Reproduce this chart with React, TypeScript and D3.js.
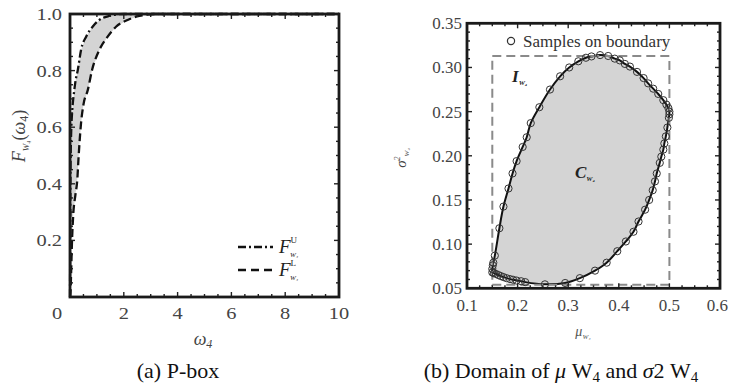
import React from "react";
import * as d3 from "d3";

// ---------- Data: panel (a) P-box ----------
const upperOmega = [0, 0.005, 0.01, 0.02, 0.035, 0.05, 0.07, 0.1, 0.16, 0.2, 0.29, 0.41, 0.6, 0.84, 1.09, 1.45, 2.0, 3.0, 10];
const upperF = [0, 0.1, 0.25, 0.45, 0.55, 0.6, 0.64, 0.68, 0.731, 0.76, 0.802, 0.873, 0.92, 0.955, 0.979, 0.993, 1.0, 1.0, 1.0];
const lowerOmega = [0, 0.02, 0.04, 0.07, 0.12, 0.2, 0.27, 0.32, 0.41, 0.5, 0.66, 0.82, 1.09, 1.4, 1.71, 2.14, 2.58, 3.2, 10];
const lowerF = [0, 0.02, 0.08, 0.184, 0.29, 0.36, 0.413, 0.496, 0.614, 0.68, 0.731, 0.802, 0.873, 0.92, 0.955, 0.979, 0.993, 1.0, 1.0];
const aXTicks = [0, 2, 4, 6, 8, 10];
const aYTicks = [0.2, 0.4, 0.6, 0.8, 1.0];

// ---------- Data: panel (b) domain ----------
const boundaryMu = [
  0.15, 0.15, 0.151, 0.152, 0.155, 0.164, 0.172, 0.182, 0.19, 0.198, 0.21, 0.218, 0.226, 0.243, 0.264, 0.284,
  0.302, 0.32, 0.335, 0.346, 0.363, 0.379, 0.392, 0.402, 0.412, 0.422, 0.436, 0.449, 0.458, 0.468, 0.478,
  0.488, 0.494, 0.498, 0.5, 0.5, 0.499, 0.496, 0.493, 0.49, 0.488, 0.484, 0.481, 0.475, 0.4715, 0.467, 0.46,
  0.452, 0.439, 0.429, 0.414, 0.397, 0.376, 0.353, 0.323, 0.294, 0.254, 0.215, 0.207, 0.198, 0.191, 0.185,
  0.178, 0.172, 0.167, 0.162, 0.157, 0.153,
];
const boundarySigma2 = [
  0.068, 0.072, 0.076, 0.079, 0.087, 0.118, 0.1425, 0.163, 0.18, 0.194, 0.21, 0.221, 0.237, 0.255, 0.275, 0.29,
  0.3, 0.307, 0.311, 0.3125, 0.314, 0.313, 0.31, 0.308, 0.304, 0.301, 0.295, 0.288, 0.282, 0.276, 0.27,
  0.263, 0.258, 0.254, 0.25, 0.247, 0.243, 0.232, 0.222, 0.214, 0.207, 0.199, 0.192, 0.18, 0.171, 0.161, 0.15,
  0.139, 0.1256, 0.114, 0.103, 0.092, 0.079, 0.07, 0.0615, 0.056, 0.0545, 0.057, 0.058, 0.0588, 0.0597, 0.0604,
  0.0615, 0.0627, 0.0638, 0.065, 0.0663, 0.0672,
];
const boxMu = [0.15, 0.5];
const boxSigma2 = [0.054, 0.313];
const bXTicks = [0.1, 0.2, 0.3, 0.4, 0.5, 0.6];
const bYTicks = [0.05, 0.1, 0.15, 0.2, 0.25, 0.3, 0.35];

const SERIF = "'Liberation Serif', 'Times New Roman', serif";

function range(a: number, b: number, step: number) {
  const out: number[] = [];
  for (let v = a; v <= b + step * 1e-6; v += step) out.push(+v.toFixed(6));
  return out;
}

export default function App() {
  // Panel (a) scales
  const ax = d3.scaleLinear().domain([0, 10]).range([70, 339]);
  const ay = d3.scaleLinear().domain([0, 1]).range([297, 14]);
  // Panel (b) scales
  const bx = d3.scaleLinear().domain([0.1, 0.6]).range([467, 720]);
  const by = d3.scaleLinear().domain([0.05, 0.35]).range([288.3, 23.3]);

  const upperPts: [number, number][] = upperOmega.map((w, i) => [w, upperF[i]]);
  const lowerPts: [number, number][] = lowerOmega.map((w, i) => [w, lowerF[i]]);
  const lineA = d3
    .line<[number, number]>()
    .x((d) => ax(d[0]))
    .y((d) => ay(d[1]))
    .curve(d3.curveMonotoneX);
  const bandPts = [...upperPts, ...lowerPts.slice().reverse()];
  const bandPath = d3
    .line<[number, number]>()
    .x((d) => ax(d[0]))
    .y((d) => ay(d[1]))
    .curve(d3.curveLinear)(bandPts) + "Z";

  const bPts: [number, number][] = boundaryMu.map((m, i) => [m, boundarySigma2[i]]);
  const closedLine = d3
    .line<[number, number]>()
    .x((d) => bx(d[0]))
    .y((d) => by(d[1]))
    .curve(d3.curveCatmullRomClosed.alpha(0.5));

  const frameW = 2.8;

  // tick helper: inward ticks on all four sides
  const ticksFrame = (
    xs: d3.ScaleLinear<number, number>,
    ys: d3.ScaleLinear<number, number>,
    xMinor: number[],
    xMajor: number[],
    yMinor: number[],
    yMajor: number[]
  ) => {
    const [x0, x1] = xs.range();
    const [y0, y1] = ys.range();
    const els: React.ReactNode[] = [];
    const isMajor = (arr: number[], v: number) => arr.some((m) => Math.abs(m - v) < 1e-6);
    xMinor.forEach((v, i) => {
      const L = isMajor(xMajor, v) ? 5 : 3;
      const X = xs(v);
      els.push(<line key={"xb" + i} x1={X} x2={X} y1={y0} y2={y0 - L} stroke="#222" strokeWidth={1.4} />);
      els.push(<line key={"xt" + i} x1={X} x2={X} y1={y1} y2={y1 + L} stroke="#222" strokeWidth={1.4} />);
    });
    yMinor.forEach((v, i) => {
      const L = isMajor(yMajor, v) ? 5 : 3;
      const Y = ys(v);
      els.push(<line key={"yl" + i} x1={x0} x2={x0 + L} y1={Y} y2={Y} stroke="#222" strokeWidth={1.4} />);
      els.push(<line key={"yr" + i} x1={x1} x2={x1 - L} y1={Y} y2={Y} stroke="#222" strokeWidth={1.4} />);
    });
    return els;
  };

  return (
    <svg width={729} height={388} style={{ position: "absolute", left: 0, top: 0, background: "#fff" }} fontFamily={SERIF}>
      <rect x={0} y={0} width={729} height={388} fill="#fff" />

      {/* ================= Panel (a) ================= */}
      <path d={bandPath} fill="#d4d4d4" stroke="none" />
      <path d={lineA(upperPts) || ""} fill="none" stroke="#111" strokeWidth={2.3} strokeDasharray="8,3,2,3" />
      <path d={lineA(lowerPts) || ""} fill="none" stroke="#111" strokeWidth={2.3} strokeDasharray="8,4" />
      {ticksFrame(ax, ay, range(0, 10, 0.5), aXTicks, range(0, 1, 0.05), aYTicks)}
      <rect x={ax(0)} y={ay(1)} width={ax(10) - ax(0)} height={ay(0) - ay(1)} fill="none" stroke="#1a1a1a" strokeWidth={frameW} />

      {aYTicks.map((t) => (
        <text key={"ay" + t} transform={`translate(62,${ay(t) + 6}) scale(1.2,1)`} textAnchor="end" fontSize={17} fill="#444">
          {t.toFixed(1)}
        </text>
      ))}
      {aXTicks.map((t) => (
        <text key={"ax" + t} transform={`translate(${ax(t) + (t === 0 ? -13 : 0)},319) scale(1.2,1)`} textAnchor="middle" fontSize={17} fill="#444">
          {t}
        </text>
      ))}
      <text x={203} y={345} textAnchor="middle" fontSize={18} fontStyle="italic" fill="#444">
        ω<tspan fontSize={12} dy={3}>4</tspan>
      </text>
      <text transform="translate(25,136) rotate(-90)" textAnchor="middle" fontSize={18} fill="#444">
        <tspan fontStyle="italic">F</tspan>
        <tspan fontSize={9} fontStyle="italic" dy={4}>W₄</tspan>
        <tspan dy={-4}>(</tspan>
        <tspan fontStyle="italic">ω</tspan>
        <tspan fontSize={12} dy={3}>4</tspan>
        <tspan dy={-3}>)</tspan>
      </text>

      {/* legend (a) */}
      <line x1={238} x2={273} y1={247} y2={247} stroke="#111" strokeWidth={2.3} strokeDasharray="8,3,2,3" />
      <text x={279} y={253} fontSize={19} fontStyle="italic" fill="#222">
        F<tspan fontSize={9} fontStyle="normal" dy={-10}>U</tspan>
        <tspan x={290} dy={14} fontSize={7}>W₄</tspan>
      </text>
      <line x1={238} x2={273} y1={270} y2={270} stroke="#111" strokeWidth={2.3} strokeDasharray="8,5" />
      <text x={279} y={276} fontSize={19} fontStyle="italic" fill="#222">
        F<tspan fontSize={9} fontStyle="normal" dy={-10}>L</tspan>
        <tspan x={290} dy={14} fontSize={7}>W₄</tspan>
      </text>

      <text x={178} y={378} textAnchor="middle" fontSize={22} fill="#111">
        (a) P-box
      </text>

      {/* ================= Panel (b) ================= */}
      <path d={closedLine(bPts) || ""} fill="#d4d4d4" stroke="#111" strokeWidth={2} />
      <rect
        x={bx(boxMu[0])}
        y={by(boxSigma2[1])}
        width={bx(boxMu[1]) - bx(boxMu[0])}
        height={by(boxSigma2[0]) - by(boxSigma2[1])}
        fill="none"
        stroke="#8a8a8a"
        strokeWidth={2}
        strokeDasharray="9,5"
      />
      {bPts.map((p, i) => (
        <circle key={"c" + i} cx={bx(p[0])} cy={by(p[1])} r={3.6} fill="none" stroke="#333" strokeWidth={1} />
      ))}
      {ticksFrame(bx, by, range(0.1, 0.6, 0.025), bXTicks, range(0.05, 0.35, 0.01), bYTicks)}
      <rect x={bx(0.1)} y={by(0.35)} width={bx(0.6) - bx(0.1)} height={by(0.05) - by(0.35)} fill="none" stroke="#1a1a1a" strokeWidth={frameW} />

      {bYTicks.map((t) => (
        <text key={"by" + t} x={462} y={by(t) + 6} textAnchor="end" fontSize={17} fill="#444">
          {t.toFixed(2)}
        </text>
      ))}
      {bXTicks.map((t, i) => (
        <text
          key={"bx" + t}
          x={i === bXTicks.length - 1 ? 728 : bx(t)}
          y={311}
          textAnchor={i === bXTicks.length - 1 ? "end" : "middle"}
          fontSize={17}
          fill="#444"
        >
          {t.toFixed(1)}
        </text>
      ))}
      <text x={583} y={336} textAnchor="middle" fontSize={14} fontStyle="italic" fill="#555">
        μ<tspan fontSize={7} dy={3}>W₄</tspan>
      </text>
      <text transform="translate(406,158) rotate(-90)" textAnchor="middle" fontSize={15} fontStyle="italic" fill="#444">
        σ<tspan fontSize={8} dy={-6}>2</tspan>
        <tspan fontSize={7} dy={9}>W₄</tspan>
      </text>

      {/* legend (b) */}
      <circle cx={511} cy={41} r={3.6} fill="none" stroke="#333" strokeWidth={1.2} />
      <text x={523} y={47} fontSize={17} fill="#333">
        Samples on boundary
      </text>

      <text x={512} y={82} fontSize={17} fontWeight="bold" fontStyle="italic" fill="#222">
        I<tspan fontSize={7} dy={3}>W₄</tspan>
      </text>
      <text x={575} y={178} fontSize={17} fontWeight="bold" fontStyle="italic" fill="#222">
        C<tspan fontSize={7} dy={3}>W₄</tspan>
      </text>

      <text x={561} y={378} textAnchor="middle" fontSize={22} fill="#111">
        (b) Domain of <tspan fontStyle="italic">μ</tspan> W<tspan fontSize={15} dy={4}>4</tspan>
        <tspan dy={-4}> and </tspan>
        <tspan fontStyle="italic">σ</tspan>2 W<tspan fontSize={15} dy={4}>4</tspan>
      </text>
    </svg>
  );
}
